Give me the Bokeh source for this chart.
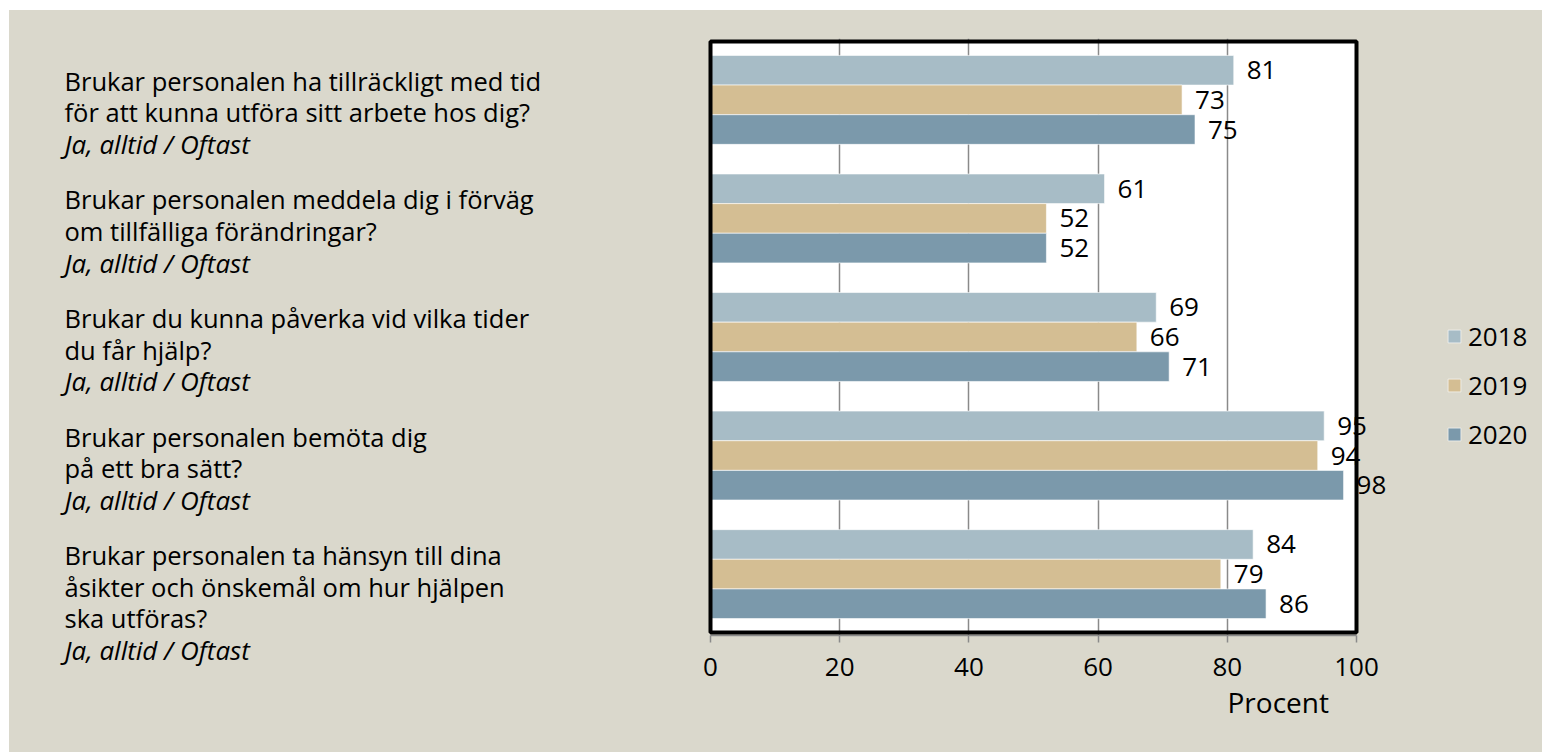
from bokeh.plotting import figure
from bokeh.models import (FactorRange, Range1d, FixedTicker, LabelSet, ColumnDataSource,
                          BoxAnnotation, Title)
from bokeh.layouts import row
from bokeh.core.properties import value
from bokeh.embed import file_html
from bokeh.resources import INLINE

# ---------------- data ----------------
questions = [
    "Brukar personalen ha tillräckligt med tid\nför att kunna utföra sitt arbete hos dig?",
    "Brukar personalen meddela dig i förväg\nom tillfälliga förändringar?",
    "Brukar du kunna påverka vid vilka tider\ndu får hjälp?",
    "Brukar personalen bemöta dig\npå ett bra sätt?",
    "Brukar personalen ta hänsyn till dina\nåsikter och önskemål om hur hjälpen\nska utföras?",
]
answer_note = "Ja, alltid / Oftast"
years = ["2018", "2019", "2020"]
v2018 = [81, 61, 69, 95, 84]
v2019 = [73, 52, 66, 94, 79]
v2020 = [75, 52, 71, 98, 86]
x_ticks = [0, 20, 40, 60, 80, 100]
x_title = "Procent"

# ---------------- style / geometry (page pixels) ----------------
FONT = "Open Sans"
BG = "#dad8cc"
COLORS = {"2018": "#a7bcc6", "2019": "#d4be93", "2020": "#7b99ab"}
OFF_X, OFF_Y = 9, 10
TOTAL_W, TOTAL_H = 1533, 742
LW = 690
MW = TOTAL_W - LW
BOX_L, BOX_R, BOX_T, BOX_B = 710, 1356, 41, 632
FRAME_L, FRAME_T, FRAME_B = 702, 38, 635
FRAME_R = OFF_X + TOTAL_W
GROUP_PAD = 1.0
BOX_PAD = 0.47

n = len(questions)
n_units = 3 * n + GROUP_PAD * (n - 1)
PX = (BOX_R - BOX_L) / 100.0
U = (BOX_B - BOX_T) / (n_units + 2 * BOX_PAD)
FR_PAD = BOX_PAD + (BOX_T - FRAME_T) / U

keys = [f"q{i}" for i in range(n)]
values = {"2018": v2018, "2019": v2019, "2020": v2020}
factors = [(k, yr) for k in reversed(keys) for yr in reversed(years)]

# ---------------- main chart ----------------
p = figure(
    width=MW, height=TOTAL_H,
    x_range=Range1d(-(BOX_L - FRAME_L) / PX, (FRAME_R - BOX_L) / PX),
    y_range=FactorRange(*factors, group_padding=GROUP_PAD, factor_padding=0,
                        range_padding=FR_PAD, range_padding_units="absolute"),
    output_backend="svg", toolbar_location=None,
    y_axis_location=None,
    min_border_left=FRAME_L - (OFF_X + LW), min_border_top=FRAME_T - OFF_Y,
    min_border_right=0, min_border_bottom=OFF_Y + TOTAL_H - FRAME_B,
)
p.frame_align = False
p.background_fill_color = BG
p.border_fill_color = BG
p.outline_line_color = None
p.styles = {"background-color": BG}

# white plot area and its black frame
p.add_layout(BoxAnnotation(left=0, right=100, bottom=-BOX_PAD, top=n_units + BOX_PAD,
                           fill_color="white", fill_alpha=1, line_color=None, level="image"))
p.add_layout(BoxAnnotation(left=0, right=100, bottom=-BOX_PAD, top=n_units + BOX_PAD,
                           fill_alpha=0, line_color="black", line_alpha=1, line_width=4,
                           level="annotation"))

p.ygrid.visible = False
p.xgrid.grid_line_color = "#8a8a8a"
p.xgrid.grid_line_width = 1.5
p.xgrid.ticker = FixedTicker(ticks=x_ticks[1:-1])

ax = p.xaxis[0]
ax.ticker = FixedTicker(ticks=x_ticks)
ax.bounds = (x_ticks[0], x_ticks[-1])
ax.axis_line_color = "#8a8a8a"
ax.axis_line_width = 1.5
ax.major_tick_line_color = "#8a8a8a"
ax.major_tick_line_width = 1.5
ax.major_tick_out = 7
ax.major_tick_in = 0
ax.minor_tick_line_color = None
ax.major_label_text_font = FONT
ax.major_label_text_font_size = "26px"
ax.major_label_text_color = "black"
ax.major_label_standoff = 15

lab_x, lab_y, lab_t = [], [], []
for yr in years:
    src = ColumnDataSource(dict(y=[(k, yr) for k in keys], x=values[yr]))
    p.hbar(y="y", right="x", left=0, height=1.0, source=src,
           fill_color=COLORS[yr], line_color="white", line_width=0.6,
           legend_label=yr)
    lab_x += values[yr]
    lab_y += [(k, yr) for k in keys]
    lab_t += [str(v) for v in values[yr]]

p.add_layout(LabelSet(x="x", y="y", text="t",
                      source=ColumnDataSource(dict(x=lab_x, y=lab_y, t=lab_t)),
                      x_offset=13, text_baseline="middle", text_align="left",
                      text_font=value(FONT), text_font_size=value("26px"),
                      text_color="black"))

lg = p.legend[0]
lg.location = (1446 - FRAME_L, FRAME_B - 452)
lg.padding = 0
lg.margin = 0
lg.border_line_color = None
lg.background_fill_alpha = 0
lg.glyph_width = 16
lg.glyph_height = 16
lg.label_height = 30
lg.spacing = 13
lg.label_standoff = 6
lg.label_text_font = FONT
lg.label_text_font_size = "26px"
lg.label_text_color = "black"

p.add_layout(Title(text=x_title, align="left", offset=1227 - FRAME_L,
                   text_font=FONT, text_font_size="28px", text_font_style="normal",
                   text_color="black", standoff=5), "below")

# ---------------- left question texts ----------------
y_top = n_units + FR_PAD + (FRAME_T - OFF_Y) / U
y_bot = -FR_PAD - (OFF_Y + TOTAL_H - FRAME_B) / U
q = figure(width=LW, height=TOTAL_H, x_range=Range1d(0, LW), y_range=Range1d(y_bot, y_top),
           output_backend="svg", toolbar_location=None,
           x_axis_location=None, y_axis_location=None,
           min_border_left=0, min_border_right=0, min_border_top=0, min_border_bottom=0)
q.frame_align = False
q.background_fill_color = BG
q.border_fill_color = BG
q.outline_line_color = None
q.grid.visible = False
q.styles = {"background-color": BG}

LINE = 31.6
FIRST = -19
norm = dict(x=[], y=[], t=[], off=[])
ital = dict(x=[], y=[], t=[], off=[])
for i, qt in enumerate(questions):
    center = (n - 1 - i) * (3 + GROUP_PAD) + 1.5
    lines = qt.split("\n")
    for j, ln in enumerate(lines):
        norm["x"].append(64 - OFF_X); norm["y"].append(center)
        norm["t"].append(ln); norm["off"].append(FIRST + j * LINE)
    ital["x"].append(64 - OFF_X); ital["y"].append(center)
    ital["t"].append(answer_note); ital["off"].append(FIRST + len(lines) * LINE)

for d, style, size in ((norm, "normal", "25.5px"), (ital, "italic", "26px")):
    q.text(x="x", y="y", text="t", y_offset="off", source=ColumnDataSource(d),
           text_font=value(FONT), text_font_size=size, text_font_style=style,
           text_color="black", text_baseline="alphabetic", text_align="left")

layout = row(q, p, spacing=0)
layout.margin = (OFF_Y, 0, 0, OFF_X)
layout.styles = {"background-color": BG}

open("out.html", "w").write(file_html(layout, INLINE))
